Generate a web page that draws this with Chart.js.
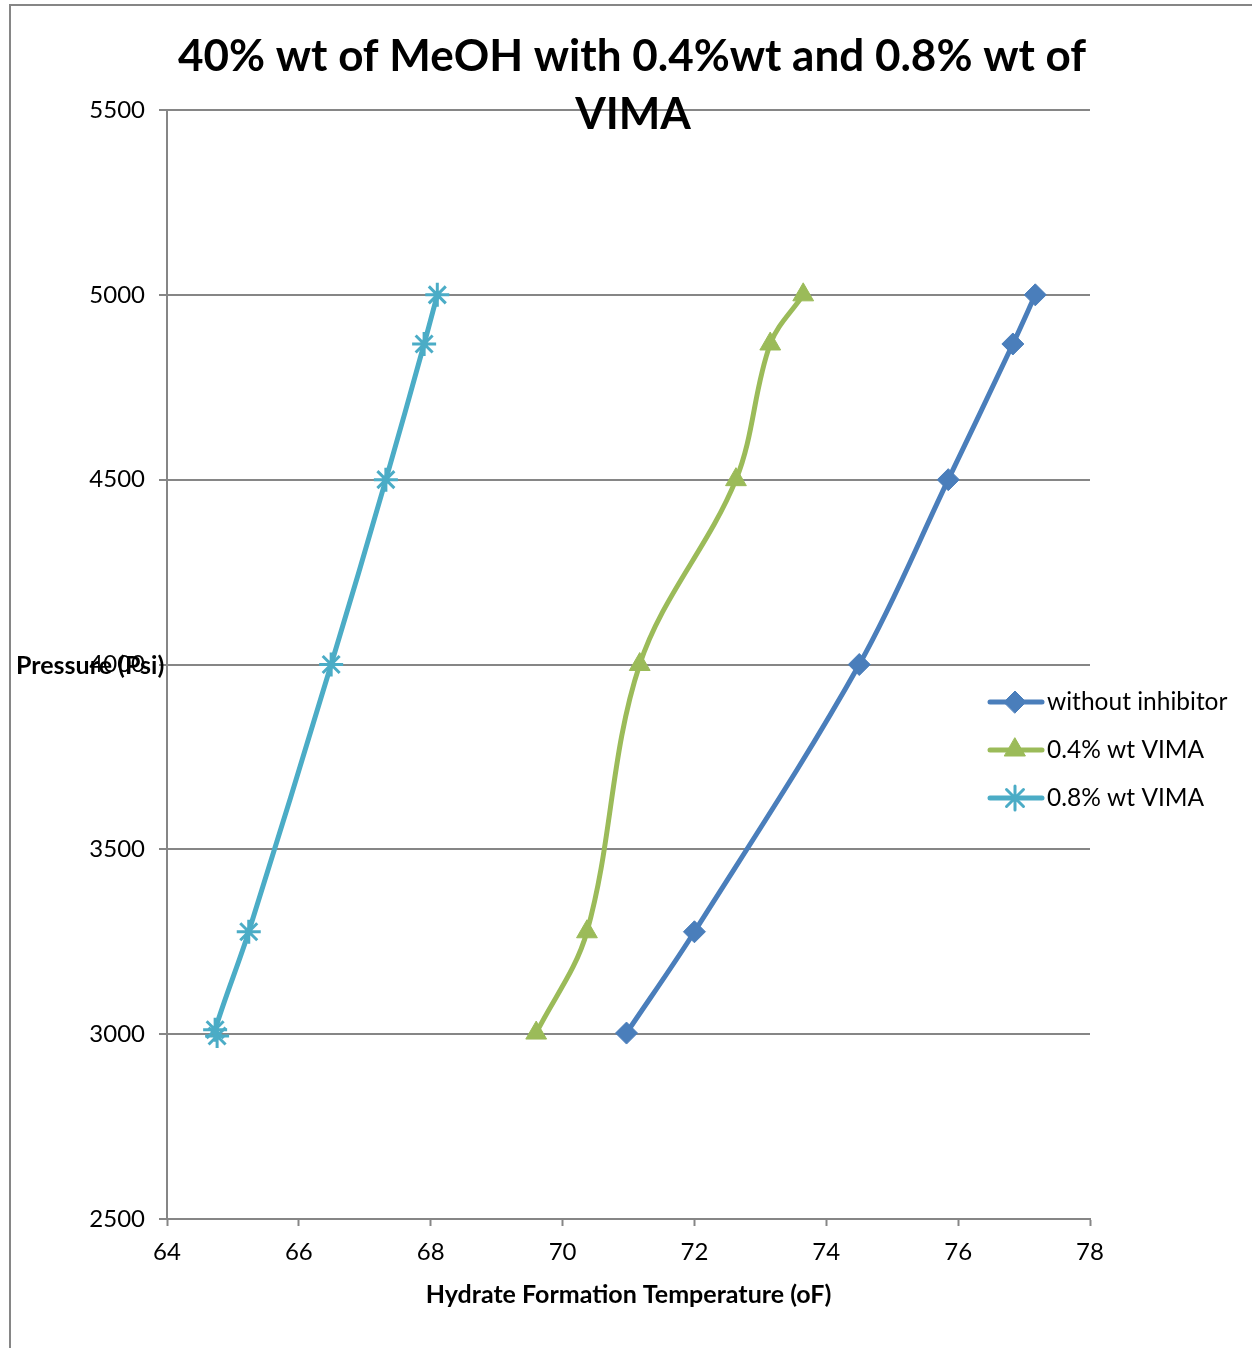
<!DOCTYPE html>
<html>
<head>
<meta charset="utf-8">
<script src="https://cdn.jsdelivr.net/npm/chart.js@4"></script>
<style>
  html, body { margin: 0; padding: 0; background: #fff; }
  #wrap { width: 1252px; height: 1348px; }
</style>
</head>
<body>
<div id="wrap"><canvas id="myChart" width="1252" height="1348"></canvas></div>
<script>
// hydrate formation temperature (oF) vs pressure (psi)
const pressure = [3003, 3277, 4000, 4500, 4867, 5000];
const tempNoInhibitor = [70.97, 72.0, 74.5, 75.85, 76.83, 77.17];
const tempVima04 = [69.6, 70.37, 71.17, 72.63, 73.15, 73.65];
const pressureVima08 = [2995, 3012, 3277, 4000, 4500, 4867, 5000];
const tempVima08 = [64.76, 64.73, 65.24, 66.49, 67.32, 67.9, 68.1];
const seriesNames = ['without inhibitor', '0.4% wt VIMA', '0.8% wt VIMA'];
const xTicks = [64, 66, 68, 70, 72, 74, 76, 78];
const yTicks = [2500, 3000, 3500, 4000, 4500, 5000, 5500];

const FONT = 'Lato, "Open Sans", sans-serif';
const GRID = '#868686';

function toPoints(xs, ys) {
    return xs.map((x, i) => ({ x: x, y: ys[i] }));
}

const colors = ['#4A7EBB', '#9BBB59', '#4BACC6'];
const styles = ['rectRot', 'triangle', 'star'];
const radii = [11, 12, 12];

const datasets = [
    toPoints(tempNoInhibitor, pressure),
    toPoints(tempVima04, pressure),
    toPoints(tempVima08, pressureVima08)
].map((pts, i) => ({
    label: seriesNames[i],
    data: pts,
    borderColor: colors[i],
    backgroundColor: colors[i],
    borderWidth: 5,
    pointStyle: styles[i],
    pointRadius: radii[i],
    pointBorderWidth: i === 2 ? 3 : 1,
    pointBorderColor: colors[i],
    tension: 0.35,
    showLine: true
}));

// frame, title, y label and legend are painted by hand
const decorations = {
    id: 'decorations',
    beforeDraw(chart) {
        const c = chart.ctx;
        c.save();
        c.fillStyle = '#fff';
        c.fillRect(0, 0, chart.width, chart.height);
        c.strokeStyle = GRID;
        c.lineWidth = 2;
        c.beginPath();
        c.moveTo(10, chart.height);
        c.lineTo(10, 5);
        c.lineTo(chart.width, 5);
        c.stroke();
        c.restore();
    },
    afterDraw(chart) {
        const c = chart.ctx;
        c.save();
        c.fillStyle = '#000';
        c.textAlign = 'center';
        c.textBaseline = 'middle';
        c.font = 'bold 44px ' + FONT;
        c.fillText('40% wt of MeOH with 0.4%wt and 0.8% wt of', 632, 57);
        c.fillText('VIMA', 633, 115);

        c.font = 'bold 25px ' + FONT;
        c.textAlign = 'left';
        c.fillText('Pressure (Psi)', 16, 666);

        const rows = [702, 750, 798];
        chart.data.datasets.forEach((ds, i) => {
            const y = rows[i];
            c.strokeStyle = ds.borderColor;
            c.lineWidth = 5;
            c.lineCap = 'round';
            c.beginPath();
            c.moveTo(990, y);
            c.lineTo(1042, y);
            c.stroke();
            c.fillStyle = ds.backgroundColor;
            c.strokeStyle = ds.pointBorderColor;
            c.lineWidth = ds.pointBorderWidth;
            c.beginPath();
            Chart.helpers.drawPoint(c, { pointStyle: ds.pointStyle, radius: ds.pointRadius, rotation: 0 }, 1015, y);
            c.fill();
            c.stroke();
            c.fillStyle = '#000';
            c.font = '24.5px ' + FONT;
            c.textAlign = 'left';
            c.fillText(ds.label, 1047, y);
        });
        c.restore();
    }
};

const ctx = document.getElementById('myChart').getContext('2d');
const myChart = new Chart(ctx, {
    type: 'scatter',
    data: { datasets: datasets },
    options: {
        responsive: false,
        animation: false,
        layout: { padding: { top: 110, right: 162, bottom: 36, left: 0 } },
        plugins: {
            legend: { display: false },
            tooltip: { enabled: false }
        },
        scales: {
            x: {
                type: 'linear',
                min: 64,
                max: 78,
                afterBuildTicks: axis => { axis.ticks = xTicks.map(v => ({ value: v })); },
                afterFit: axis => { axis.height = 93; },
                grid: {
                    drawOnChartArea: false,
                    drawTicks: true,
                    tickLength: 7,
                    tickColor: GRID,
                    tickWidth: 2
                },
                border: { display: true, color: GRID, width: 2 },
                ticks: {
                    color: '#000',
                    font: { family: FONT, size: 24 },
                    padding: 12,
                    maxRotation: 0
                },
                title: {
                    display: true,
                    text: 'Hydrate Formation Temperature (oF)',
                    color: '#000',
                    font: { family: FONT, size: 25, weight: 'bold' },
                    padding: { top: 10, bottom: 2 }
                }
            },
            y: {
                type: 'linear',
                min: 2500,
                max: 5500,
                afterBuildTicks: axis => { axis.ticks = yTicks.map(v => ({ value: v })); },
                afterFit: axis => { axis.width = 167; },
                grid: {
                    color: GRID,
                    lineWidth: 2,
                    drawTicks: true,
                    tickLength: 8,
                    tickColor: GRID
                },
                border: { display: true, color: GRID, width: 2 },
                ticks: {
                    color: '#000',
                    font: { family: FONT, size: 24 },
                    padding: 14,
                    callback: v => String(v)
                }
            }
        }
    },
    plugins: [decorations]
});
</script>
</body>
</html>
